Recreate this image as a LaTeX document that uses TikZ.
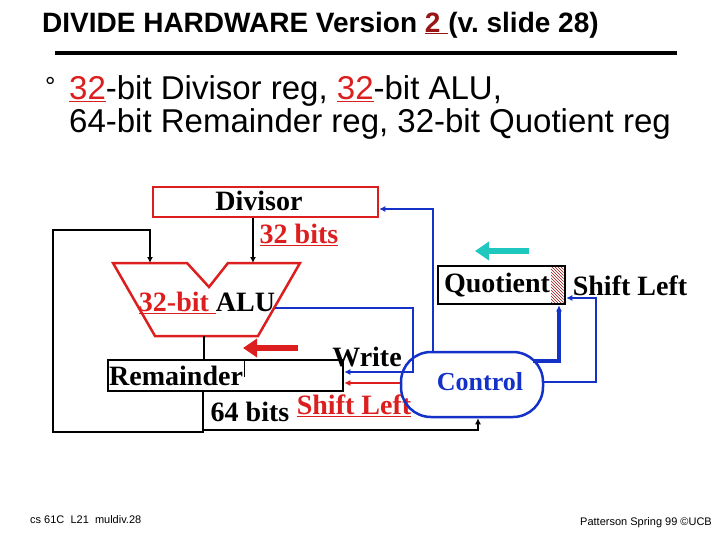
\documentclass[tikz,border=0pt]{standalone}
\usepackage{fontspec}
\setmainfont{Liberation Serif}
\newfontfamily\arial{Liberation Sans}
\usetikzlibrary{patterns,arrows.meta}
\definecolor{myred}{RGB}{220,30,30}
\definecolor{myblue}{RGB}{20,50,200}
\definecolor{mycyan}{RGB}{30,200,190}
\begin{document}
\begin{tikzpicture}[x=1pt,y=-1pt,
  blk/.style={line width=2.5pt,black},
  bl/.style={line width=2pt,myblue},
  tip/.style={-{Latex[length=6pt,width=6pt]}},
  lbl/.style={font=\bfseries\fontsize{28}{30}\selectfont,inner sep=0pt}]
\useasboundingbox (0,0) rectangle (720,540);
% title
\node[anchor=west,inner sep=0pt,font=\arial\bfseries\fontsize{28}{30}\selectfont] (title) at (42,25) {DIVIDE HARDWARE Version \textcolor{myred!70!black}{\underline{2\ }}(v.~slide~28)};
\draw[line width=4pt] (55,53) -- (677,53);
\node[anchor=west,inner sep=0pt,font=\arial\fontsize{26}{28}\selectfont] (bul) at (45,86) {\textdegree};
\node[anchor=west,inner sep=0pt,font=\arial\fontsize{33}{35}\selectfont] (l1) at (69,91) {\textcolor{myred}{\underline{32}}-bit Divisor reg, \textcolor{myred}{\underline{32}}-bit ALU,};
\node[anchor=west,inner sep=0pt,font=\arial\fontsize{33}{35}\selectfont] (l2) at (69,124) {64-bit Remainder reg, 32-bit Quotient reg};
% Divisor
\node[draw=myred,line width=2.5pt,minimum width=225pt,minimum height=30pt,inner sep=0pt] (div) at (265.5,202) {};
\node[lbl] (divt) at (259,201) {Divisor};
\node[lbl,text=myred] (d32) at (299,235) {\underline{32 bits}};
% ALU
\draw[myred,line width=2.5pt] (113,263) -- (187,263) -- (209,287) -- (228,263) -- (300,263) -- (258,336) -- (155,336) -- cycle;
\coordinate (alutop1) at (150,263);
\coordinate (alutop2) at (253,263);
\coordinate (alur) at (275,308);
\node[lbl] (alut) at (207,303) {\textcolor{myred}{\underline{32-bit }}ALU};
% Remainder
\node[draw,line width=2.5pt,minimum width=235pt,minimum height=31pt,inner sep=0pt] (rem) at (225.5,375.5) {};
\draw[line width=1pt] (244,360) -- (244,377);
\node[lbl,anchor=west] (remt) at (109,376) {Remainder};
\node[lbl] (wr) at (367,357) {Write};
\node[lbl] (b64) at (250,412) {64 bits};
\node[lbl,text=myred] (shl) at (354,406) {\underline{Shift Left}};
\draw[myred,line width=6pt,-{Triangle[length=14pt,width=18pt]}] (298,348) -- (243,348);
% Quotient
\node[draw,line width=2.5pt,minimum width=127pt,minimum height=38pt,inner sep=0pt] (quo) at (501.5,285) {};
\fill[pattern=north west lines,pattern color=myred!70!black] (551,267.5) rectangle (563.5,302.5);
\node[lbl] (quot) at (497,285) {Quotient};
\node[lbl] (qsl) at (630,286) {Shift Left};
\draw[mycyan,line width=6pt,-{Triangle[length=14pt,width=18pt]}] (529,251) -- (475,251);
% Control
\node[draw=myblue,line width=2.5pt,rounded corners=30pt,minimum width=142pt,minimum height=65pt,inner sep=0pt] (ctl) at (472,384.5) {};
\node[lbl,text=myblue,font=\bfseries\fontsize{26}{28}\selectfont] (ctlt) at (480,382) {Control};
% connectors
\draw[blk,tip] (div.south -| alutop2) -- (alutop2);
\draw[blk,tip] (rem.south -| 203,0) -- (203,432) -- (53,432) -- (53,230) -- (150,230) -- (alutop1);
\draw[blk] (204,336) -- (rem.north -| 204,0);
\draw[blk,tip] (203,430) -- (478,430) -- (ctl.south -| 478,0);
\draw[bl,tip] (alur) -- (413,308) -- (413,372) -- (rem.east |- 0,372);
\draw[myred,line width=2pt,tip] (ctl.west |- 0,383) -- (rem.east |- 0,383);
\draw[bl,tip] (ctl.north -| 433,0) -- (433,209) -- (div.east |- 0,209);
\draw[myblue,line width=3.5pt,tip] (533,361) -- (559,361) -- (quo.south -| 559,0);
\draw[bl,tip] (ctl.east |- 0,382) -- (596,382) -- (596,298) -- (quo.east |- 0,298);
% footer
\node[anchor=west,inner sep=0pt,font=\arial\fontsize{11}{12}\selectfont] (f1) at (30,520) {cs 61C\ \ L21\ \ muldiv.28};
\node[anchor=west,inner sep=0pt,font=\arial\fontsize{11}{12}\selectfont] (f2) at (580,523) {Patterson Spring 99 \textcopyright UCB};
\end{tikzpicture}
\end{document}
